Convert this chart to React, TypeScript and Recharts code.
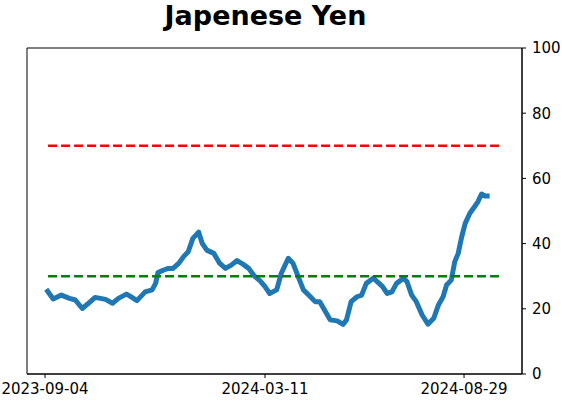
import React from 'react'
import {
  LineChart,
  Line,
  XAxis,
  YAxis,
  ReferenceLine,
  ReferenceArea,
} from 'recharts'

// days since 2023-09-04
const days = [
  1, 7, 14, 21, 26, 32, 39, 43, 52, 58, 63, 70, 73, 79, 86, 92, 95, 97,
  102, 106, 110, 115, 119, 123, 127, 132, 135, 139, 145, 150, 155, 160,
  165, 170, 175, 180, 185, 189, 193, 199, 203, 209, 213, 218, 222, 228,
  232, 236, 241, 245, 251, 256, 259, 263, 268, 272, 276, 282, 287, 290,
  294, 298, 302, 308, 311, 315, 319, 324, 329, 334, 338, 342, 345, 349,
  352, 355, 358, 361, 365, 369, 372, 375, 378, 382,
]

const values = [
  26, 23, 24.2, 23.2, 22.7, 20.1, 22.2, 23.5, 22.9, 21.7, 23.2, 24.5, 23.9,
  22.5, 25.2, 25.8, 27.8, 31.1, 31.9, 32.4, 32.4, 34, 36, 37.5, 41.6, 43.5,
  40.1, 38, 37, 34, 32.4, 33.4, 34.8, 33.7, 32.4, 30, 28.5, 26.8, 24.7, 25.8,
  30.9, 35.5, 34, 29.4, 25.8, 23.7, 22.2, 22.2, 19.1, 16.6, 16.3, 15.2, 16.6,
  22.2, 23.7, 24.2, 27.8, 29.4, 27.8, 26.8, 24.7, 25.2, 27.8, 29.4, 28.3,
  24.2, 22.2, 18.1, 15.3, 17.1, 21.2, 23.7, 27.3, 28.8, 34.4, 37, 42.1, 46.2,
  49.3, 51.3, 52.9, 55.2, 54.6, 54.6,
]

const tickDays = [0, 189, 360]
const tickLabels = ['2023-09-04', '2024-03-11', '2024-08-29']
const yTicks = [0, 20, 40, 60, 80, 100]

const upperLevel = 70
const lowerLevel = 30
const levelStart = 2.6
const levelEnd = 390

const xDomain: [number, number] = [-15.5, 409.8]

const data = days.map((d, i) => ({ day: d, value: values[i] }))

const FONT = 'DejaVu Sans, sans-serif'

export default function App() {
  return (
    <div style={{ position: 'absolute', left: 0, top: 0, width: 562, height: 402, background: '#fff' }}>
      <div
        style={{
          position: 'absolute',
          left: 0,
          width: 531,
          top: 3,
          textAlign: 'center',
          fontFamily: FONT,
          fontWeight: 'bold',
          fontSize: 27,
          lineHeight: '26px',
          color: '#000',
        }}
      >
        Japenese Yen
      </div>
      <LineChart
        width={562}
        height={402}
        data={data}
        margin={{ top: 48, right: 0, bottom: 0, left: 27 }}
      >
        <XAxis
          dataKey="day"
          type="number"
          domain={xDomain}
          allowDataOverflow
          ticks={tickDays}
          tickFormatter={(v: number) => tickLabels[tickDays.indexOf(v)] ?? ''}
          height={28}
          tickSize={4}
          tickMargin={5}
          interval={0}
          axisLine={{ stroke: '#000' }}
          tickLine={{ stroke: '#000' }}
          tick={{ fill: '#000', fontSize: 15, fontFamily: FONT }}
        />
        <YAxis
          orientation="right"
          domain={[0, 100]}
          ticks={yTicks}
          width={40}
          tickSize={4}
          tickMargin={6}
          interval={0}
          axisLine={{ stroke: '#000' }}
          tickLine={{ stroke: '#000' }}
          tick={{ fill: '#000', fontSize: 15, fontFamily: FONT, textAnchor: 'start' }}
        />
        {/* axes frame */}
        <ReferenceArea
          x1={xDomain[0]}
          x2={xDomain[1]}
          y1={0}
          y2={100}
          fill="none"
          fillOpacity={0}
          stroke="#000"
          strokeWidth={1}
          ifOverflow="visible"
        />
        <Line
          dataKey="value"
          type="linear"
          stroke="#1f77b4"
          strokeWidth={5}
          dot={false}
          isAnimationActive={false}
          strokeLinejoin="round"
        />
        <ReferenceLine
          segment={[
            { x: levelStart, y: upperLevel },
            { x: levelEnd, y: upperLevel },
          ]}
          stroke="#ff0000"
          strokeWidth={2.5}
          strokeDasharray="9 4"
        />
        <ReferenceLine
          segment={[
            { x: levelStart, y: lowerLevel },
            { x: levelEnd, y: lowerLevel },
          ]}
          stroke="#008000"
          strokeWidth={2.5}
          strokeDasharray="9 4"
        />
      </LineChart>
    </div>
  )
}
